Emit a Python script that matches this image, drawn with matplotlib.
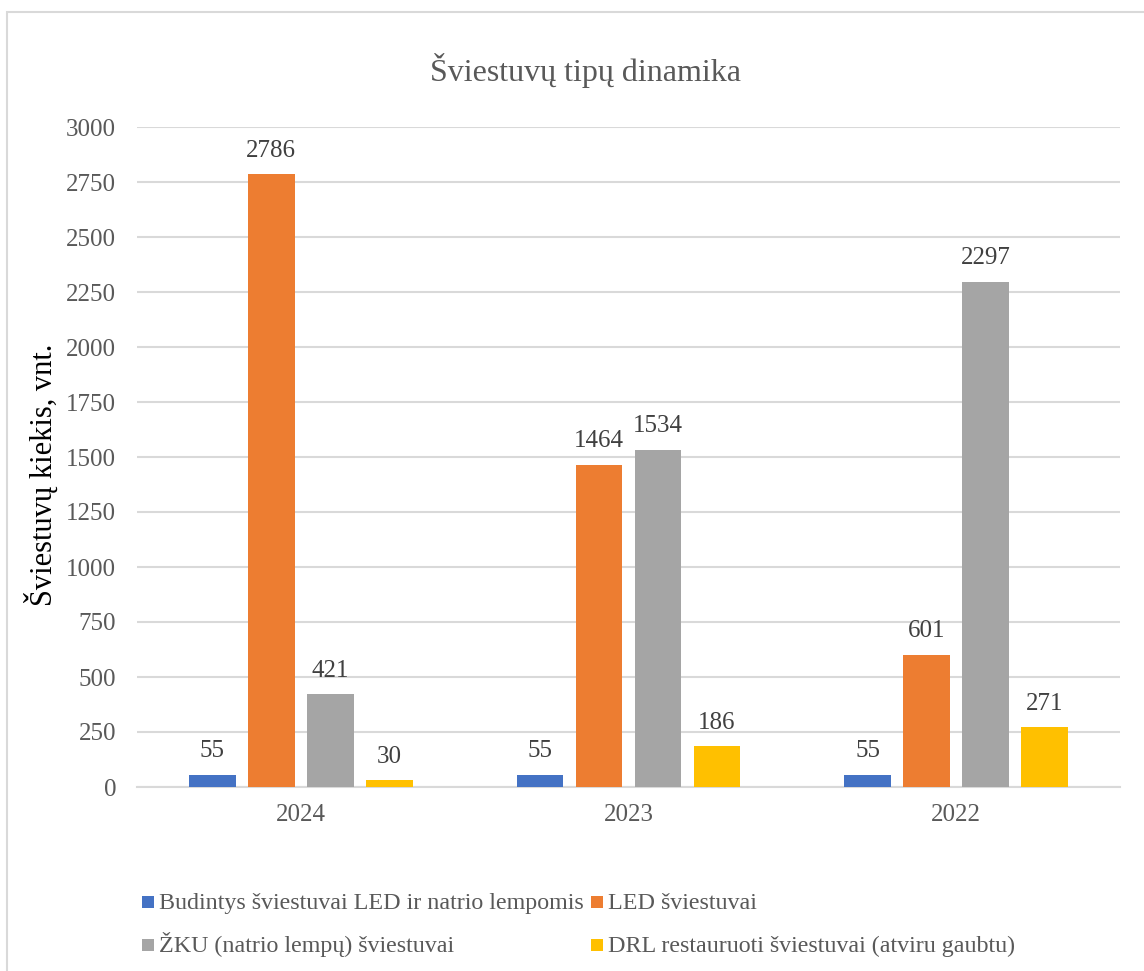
import matplotlib
matplotlib.use('Agg')
import matplotlib.pyplot as plt
import numpy as np
from matplotlib.patches import Rectangle

# Data
years = ['2024', '2023', '2022']
series_names = [
    'Budintys šviestuvai LED ir natrio lempomis',
    'LED šviestuvai',
    'ŽKU (natrio lempų) šviestuvai',
    'DRL restauruoti šviestuvai (atviru gaubtu)',
]
budintys = [55, 55, 55]
led = [2786, 1464, 601]
zku = [421, 1534, 2297]
drl = [30, 186, 271]
yticks = [0, 250, 500, 750, 1000, 1250, 1500, 1750, 2000, 2250, 2500, 2750, 3000]

colors = ['#4472C4', '#ED7D31', '#A5A5A5', '#FFC000']
text_grey = '#595959'

plt.rcParams['font.family'] = ['Liberation Serif', 'DejaVu Serif']

W, H = 1144, 971
fig = plt.figure(figsize=(W / 100, H / 100), dpi=100)

# chart border (cut off on the right and bottom in the reference)
fig.patches.append(Rectangle((7 / W, -0.02), 1.1, (H - 12) / H + 0.02,
                             transform=fig.transFigure, fill=False,
                             ec='#d9d9d9', lw=1.5))

ax = fig.add_axes([137 / W, 1 - 787 / H, (1120 - 137) / W, (787 - 127) / H])

x = np.arange(len(years))
width = 0.143
step = 0.18
all_series = [budintys, led, zku, drl]
for i, vals in enumerate(all_series):
    pos = x + (i - 1.5) * step
    bars = ax.bar(pos, vals, width=width, color=colors[i], zorder=3)
    for b, v in zip(bars, vals):
        ax.annotate(str(v), (b.get_x() + b.get_width() / 2, v),
                    xytext=(0, 9), textcoords='offset points',
                    ha='center', va='bottom', fontsize=18, color='#404040')

ax.set_xlim(-0.5, len(years) - 0.5)
ax.set_ylim(0, 3000)
ax.set_yticks(yticks)
ax.set_xticks(x)
ax.set_xticklabels(years)
ax.yaxis.grid(True, color='#d9d9d9', lw=1.5, zorder=0)
ax.tick_params(axis='both', length=0, labelsize=18, colors=text_grey)
ax.tick_params(axis='y', pad=15)
ax.tick_params(axis='x', pad=12)
for s in ['top', 'right', 'left']:
    ax.spines[s].set_visible(False)
ax.spines['bottom'].set_color('#d9d9d9')
ax.spines['bottom'].set_linewidth(1.5)

fig.text(42 / W, 1 - 475 / H, 'Šviestuvų kiekis, vnt.', rotation=90,
         ha='center', va='center', fontsize=22, color='black')

fig.text(585 / W, 1 - 71 / H, 'Šviestuvų tipų dinamika', ha='center',
         va='center', fontsize=23, color=text_grey)

# legend laid out row by row, two columns, like the Excel original
col_x = [142, 591]
row_y = [902, 945]
for i, name in enumerate(series_names):
    cx = col_x[i % 2]
    cy = row_y[i // 2]
    fig.patches.append(Rectangle((cx / W, 1 - (cy + 6) / H), 12 / W, 12 / H,
                                 transform=fig.transFigure,
                                 color=colors[i], lw=0))
    fig.text((cx + 17) / W, 1 - (cy + 7) / H, name, ha='left',
             va='baseline', fontsize=17.3, color=text_grey)

fig.savefig('out.png', dpi=100)
